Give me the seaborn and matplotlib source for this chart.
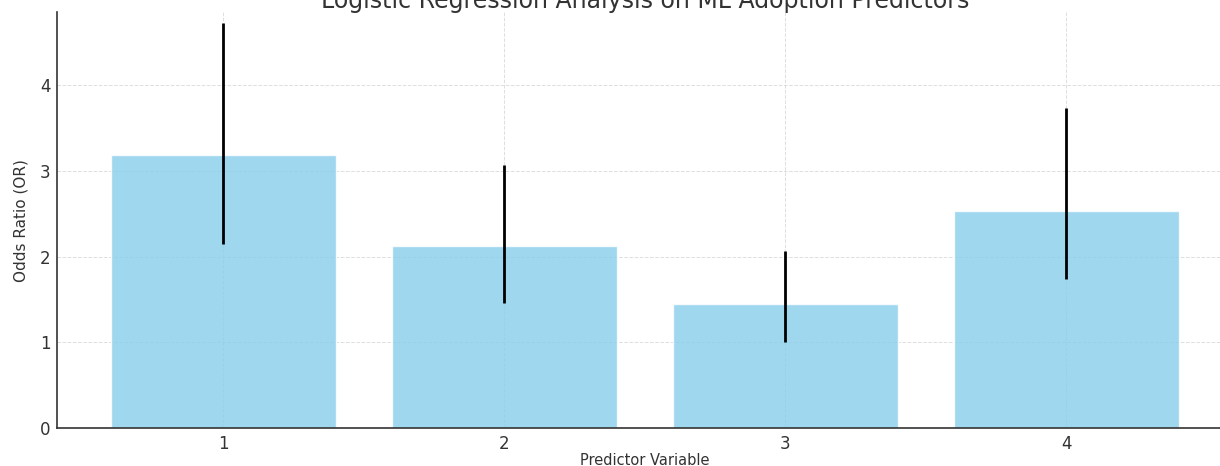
import numpy as np
import pandas as pd
import matplotlib
matplotlib.use("Agg")
import matplotlib.pyplot as plt
import seaborn as sns

sns.set_style("white")
plt.rcParams['font.family'] = ['DejaVu Sans']

predictors = ["1", "2", "3", "4"]
odds_ratio = [3.18, 2.12, 1.45, 2.53]
ci_lower = [2.15, 1.46, 1.01, 1.74]
ci_upper = [4.72, 3.07, 2.07, 3.73]

df = pd.DataFrame({"Predictor": predictors, "OR": odds_ratio})

fig = plt.figure(figsize=(12.2, 4.66), dpi=100)
ax = fig.add_axes([0.047, 0.081, 0.963, 0.893])

sns.barplot(data=df, x="Predictor", y="OR", color="skyblue", alpha=0.8,
            width=0.8, saturation=1, ax=ax)

yerr = np.array([np.array(odds_ratio) - np.array(ci_lower),
                 np.array(ci_upper) - np.array(odds_ratio)])
ax.errorbar(np.arange(len(predictors)), odds_ratio, yerr=yerr, fmt="none",
            ecolor="black", elinewidth=2, capsize=0)

ax.grid(True, linestyle="--", color="#d0d0d0", linewidth=0.7, alpha=0.7)
ax.set_axisbelow(True)
ax.set_xlim(-0.59, 3.59)
ax.set_ylim(0, 4.85)
ax.set_yticks([0, 1, 2, 3, 4])
ax.tick_params(axis="both", labelsize=12, colors="#333333", length=3, pad=2)
for s in ["top", "right"]:
    ax.spines[s].set_visible(False)
for s in ["left", "bottom"]:
    ax.spines[s].set_color("#333333")
    ax.spines[s].set_linewidth(1.2)

ax.set_xlabel("Predictor Variable", fontsize=10.5, color="#333333", labelpad=0)
ax.set_ylabel("Odds Ratio (OR)", fontsize=11, color="#333333", labelpad=8)
ax.set_title("Logistic Regression Analysis on ML Adoption Predictors",
             fontsize=17, color="#333333", pad=3)

fig.savefig("out.png", dpi=100)
